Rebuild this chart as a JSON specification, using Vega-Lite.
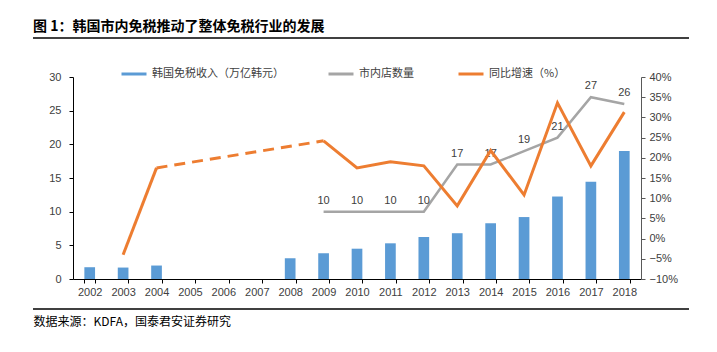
{
  "$schema": "https://vega.github.io/schema/vega-lite/v6.json",
  "width": 568,
  "height": 202,
  "autosize": {"type": "none"},
  "padding": {"left": 73, "top": 77, "right": 76, "bottom": 73},
  "background": "white",
  "config": {"view": {"stroke": null}, "font": "Liberation Sans"},
  "title": {
    "text": "图 1：韩国市内免税推动了整体免税行业的发展",
    "anchor": "start",
    "frame": "group",
    "dx": -40,
    "offset": 3,
    "font": "Noto Sans CJK SC",
    "fontSize": 14,
    "fontWeight": "bold",
    "color": "#000000"
  },
  "datasets": {
    "income": [
      {"year": "2002", "value": 1.75},
      {"year": "2003", "value": 1.7},
      {"year": "2004", "value": 2.0},
      {"year": "2008", "value": 3.07},
      {"year": "2009", "value": 3.82},
      {"year": "2010", "value": 4.5},
      {"year": "2011", "value": 5.3},
      {"year": "2012", "value": 6.24},
      {"year": "2013", "value": 6.8},
      {"year": "2014", "value": 8.28},
      {"year": "2015", "value": 9.2},
      {"year": "2016", "value": 12.25},
      {"year": "2017", "value": 14.45},
      {"year": "2018", "value": 19.0}
    ],
    "stores": [
      {"year": "2009", "value": 10},
      {"year": "2010", "value": 10},
      {"year": "2011", "value": 10},
      {"year": "2012", "value": 10},
      {"year": "2013", "value": 17},
      {"year": "2014", "value": 17},
      {"year": "2015", "value": 19},
      {"year": "2016", "value": 21},
      {"year": "2017", "value": 27},
      {"year": "2018", "value": 26}
    ],
    "growth": [
      {"year": "2003", "value": -0.04, "seg": "a"},
      {"year": "2004", "value": 0.175, "seg": "a"},
      {"year": "2004", "value": 0.175, "seg": "dash"},
      {"year": "2009", "value": 0.242, "seg": "dash"},
      {"year": "2009", "value": 0.242, "seg": "b"},
      {"year": "2010", "value": 0.175, "seg": "b"},
      {"year": "2011", "value": 0.19, "seg": "b"},
      {"year": "2012", "value": 0.18, "seg": "b"},
      {"year": "2013", "value": 0.081, "seg": "b"},
      {"year": "2014", "value": 0.218, "seg": "b"},
      {"year": "2015", "value": 0.108, "seg": "b"},
      {"year": "2016", "value": 0.336, "seg": "b"},
      {"year": "2017", "value": 0.18, "seg": "b"},
      {"year": "2018", "value": 0.313, "seg": "b"}
    ]
  },
  "layer": [
    {
      "encoding": {
        "x": {
          "field": "year",
          "type": "ordinal",
          "scale": {
            "domain": ["2002","2003","2004","2005","2006","2007","2008","2009","2010","2011","2012","2013","2014","2015","2016","2017","2018"],
            "paddingInner": 0.68,
            "paddingOuter": 0.34
          },
          "axis": {
            "title": "数据来源：KDFA，国泰君安证券研究",
            "titleFont": "Noto Sans CJK SC",
            "titleFontSize": 12,
            "titleFontWeight": "normal",
            "titleColor": "#000000",
            "titleAnchor": "start",
            "titleAlign": "left",
            "titleBaseline": "middle",
            "titleX": -40,
            "titleY": 42,
            "labelAngle": 0,
            "labelFont": "Liberation Sans",
            "labelFontSize": 11,
            "labelColor": "#404040",
            "labelPadding": 3,
            "labelOverlap": false,
            "domainColor": "#000000",
            "tickColor": "#000000",
            "tickSize": 4,
            "tickBand": "extent",
            "grid": false
          }
        }
      },
      "layer": [
        {
          "encoding": {
            "y": {
              "field": "value",
              "type": "quantitative",
              "scale": {"domain": [0, 30]},
              "axis": {
                "orient": "left",
                "title": null,
                "values": [0, 5, 10, 15, 20, 25, 30],
                "labelOverlap": false,
                "grid": false,
                "domainColor": "#000000",
                "tickColor": "#000000",
                "tickSize": 4,
                "labelPadding": 8,
                "labelFont": "Liberation Sans",
                "labelFontSize": 11,
                "labelColor": "#404040"
              }
            }
          },
          "layer": [
            {
              "data": {"name": "income"},
              "mark": {"type": "bar", "color": "#5B9BD5"},
              "encoding": {
                "color": {
                  "datum": "韩国免税收入（万亿韩元）",
                  "type": "nominal",
                  "scale": {
                    "domain": ["韩国免税收入（万亿韩元）", "市内店数量", "同比增速（%）"],
                    "range": ["#5B9BD5", "#A5A5A5", "#ED7D31"]
                  },
                  "legend": {
                    "title": null,
                    "orient": "none",
                    "legendX": 47,
                    "legendY": -17,
                    "direction": "horizontal",
                    "symbolType": "stroke",
                    "symbolSize": 625,
                    "symbolStrokeWidth": 3,
                    "labelFont": "Noto Sans CJK SC",
                    "labelFontSize": 11,
                    "labelColor": "#404040",
                    "labelOffset": 4,
                    "columnPadding": 38,
                    "encode": {"symbols": {"update": {"stroke": {"scale": "color", "field": "value"}}}}
                  }
                }
              }
            },
            {
              "data": {"name": "stores"},
              "mark": {"type": "line", "strokeWidth": 2.5},
              "encoding": {
                "color": {"datum": "市内店数量", "type": "nominal"}
              }
            },
            {
              "data": {"name": "stores"},
              "mark": {"type": "text", "dy": -11, "font": "Liberation Sans", "fontSize": 11, "color": "#404040"},
              "encoding": {
                "text": {"field": "value", "type": "quantitative"}
              }
            }
          ]
        },
        {
          "data": {"name": "growth"},
          "encoding": {
            "y": {
              "field": "value",
              "type": "quantitative",
              "scale": {"domain": [-0.1, 0.4]},
              "axis": {
                "orient": "right",
                "title": null,
                "values": [-0.1, -0.05, 0, 0.05, 0.1, 0.15, 0.2, 0.25, 0.3, 0.35, 0.4],
                "format": ".0%",
                "labelOverlap": false,
                "grid": false,
                "domainColor": "#595959",
                "tickColor": "#595959",
                "tickSize": 4,
                "labelPadding": 4,
                "labelFont": "Liberation Sans",
                "labelFontSize": 11,
                "labelColor": "#404040"
              }
            },
            "color": {"datum": "同比增速（%）", "type": "nominal"}
          },
          "layer": [
            {
              "transform": [{"filter": "datum.seg != 'dash'"}],
              "mark": {"type": "line", "strokeWidth": 3},
              "encoding": {
                "detail": {"field": "seg"}
              }
            },
            {
              "transform": [{"filter": "datum.seg == 'dash'"}],
              "mark": {"type": "line", "strokeWidth": 3, "strokeDash": [11, 7]}
            }
          ]
        }
      ],
      "resolve": {"scale": {"y": "independent"}}
    },
    {
      "data": {"values": [{}]},
      "layer": [
        {
          "mark": {"type": "rule", "clip": false, "color": "#000000", "strokeWidth": 1.3},
          "encoding": {
            "x": {"datum": -0.0704, "type": "quantitative", "scale": {"domain": [0, 1], "nice": false, "zero": false}, "axis": null},
            "x2": {"datum": 1.0845},
            "y": {"datum": 1.193, "type": "quantitative", "scale": {"domain": [0, 1], "nice": false, "zero": false}, "axis": null}
          }
        },
        {
          "mark": {"type": "rule", "clip": false, "color": "#000000", "strokeWidth": 1.3},
          "encoding": {
            "x": {"datum": -0.0704, "type": "quantitative", "axis": null},
            "x2": {"datum": 1.0845},
            "y": {"datum": -0.1485, "type": "quantitative", "axis": null}
          }
        }
      ]
    }
  ],
  "resolve": {"scale": {"x": "independent", "y": "independent"}}
}
